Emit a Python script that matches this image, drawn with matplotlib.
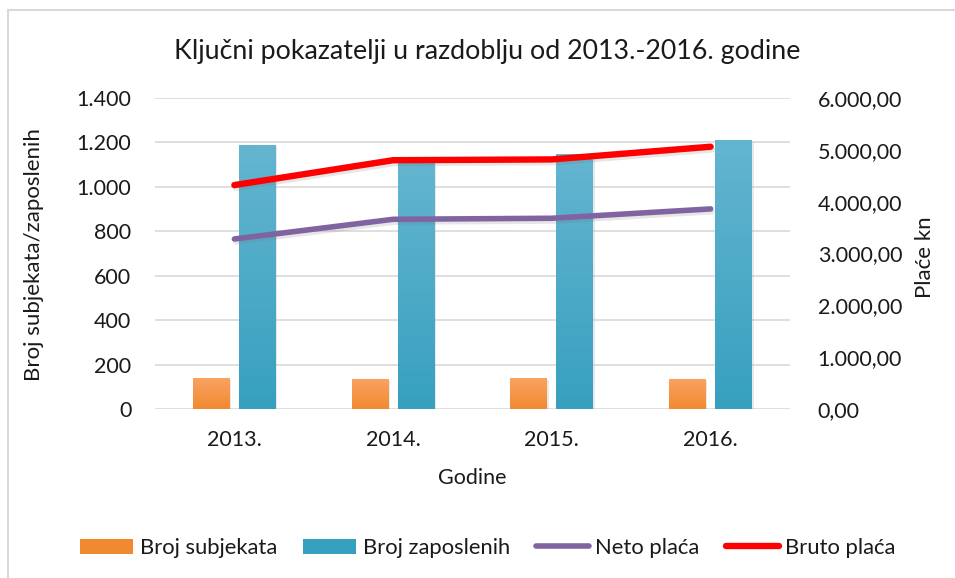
import matplotlib
matplotlib.use("Agg")
import matplotlib.pyplot as plt
import matplotlib.patheffects as pe
from matplotlib.colors import LinearSegmentedColormap
from matplotlib.patches import Rectangle
from matplotlib.ticker import FuncFormatter, MultipleLocator
import numpy as np

plt.rcParams['font.family'] = ['Lato', 'DejaVu Sans']

# data
godine = ["2013.", "2014.", "2015.", "2016."]
broj_subjekata = [137, 132, 137, 132]
broj_zaposlenih = [1188, 1120, 1146, 1210]
neto_placa = [3280, 3660, 3680, 3860]
bruto_placa = [4320, 4800, 4815, 5060]

orange_top, orange_bot = "#FAA262", "#F08A30"
blue_top, blue_bot = "#64B5D0", "#37A0BF"
purple = "#8064A2"
red = "#FF0000"
grid_col = "#D9D9D9"
txt = "#1A1A1A"
fs = 15.5

W, H = 955, 578
fig = plt.figure(figsize=(W / 100, H / 100), dpi=100)
ax = fig.add_axes([155 / W, 1 - 409 / H, 635 / W, 311 / H])

# chart border (light grey, runs off the right and bottom edges)
fig.patches.append(Rectangle((8 / W, -0.1), 1.2, 1 - 10 / H + 0.1, transform=fig.transFigure,
                             fill=False, edgecolor=grid_col, linewidth=1.5))

x = np.arange(len(godine))
bw = 0.233
off = 0.145


def fmt_int(v, pos):
    return f"{int(round(v)):,}".replace(",", ".")


def fmt_money(v, pos):
    s = f"{v:,.2f}"
    return s.replace(",", "X").replace(".", ",").replace("X", ".")


shadow_bar = [pe.SimplePatchShadow(offset=(1, -1), shadow_rgbFace="#AAAAAA", alpha=0.25), pe.Normal()]
b1 = ax.bar(x - off, broj_subjekata, bw, color=orange_bot, zorder=2, path_effects=shadow_bar,
            label="Broj subjekata")
b2 = ax.bar(x + off, broj_zaposlenih, bw, color=blue_bot, zorder=2, path_effects=shadow_bar,
            label="Broj zaposlenih")

# vertical gradient fill on each bar
for bars, c0, c1 in [(b1, orange_top, orange_bot), (b2, blue_top, blue_bot)]:
    cmap = LinearSegmentedColormap.from_list("g", [c1, c0])
    for p in bars:
        bx, by, bwid, bh = p.get_x(), p.get_y(), p.get_width(), p.get_height()
        grad = np.linspace(0, 1, 100).reshape(-1, 1)
        ax.imshow(grad, extent=[bx, bx + bwid, by, by + bh], origin="lower", aspect="auto",
                  cmap=cmap, zorder=2.5)

ax.set_xlim(-0.5, len(godine) - 0.5)
ax.set_ylim(0, 1400)
ax.yaxis.set_major_locator(MultipleLocator(200))
ax.yaxis.set_major_formatter(FuncFormatter(fmt_int))
ax.set_xticks(x)
ax.set_xticklabels(godine)
ax.grid(axis="y", color=grid_col, linewidth=1.2, zorder=0)
ax.set_axisbelow(True)
for s in ax.spines.values():
    s.set_visible(False)
ax.tick_params(axis="both", length=0, labelsize=fs, colors=txt)
ax.tick_params(axis="y", pad=17)
ax.tick_params(axis="x", pad=15)

ax2 = ax.twinx()
shadow_line = [pe.SimpleLineShadow(offset=(1, -2), shadow_color="#777777", alpha=0.18), pe.Normal()]
ax2.plot(x, neto_placa, color=purple, linewidth=4.0, solid_capstyle="round", solid_joinstyle="round",
         path_effects=shadow_line, label="Neto plaća", zorder=3)
ax2.plot(x, bruto_placa, color=red, linewidth=4.6, solid_capstyle="round", solid_joinstyle="round",
         path_effects=shadow_line, label="Bruto plaća", zorder=3)
ax2.set_ylim(0, 6000)
ax2.yaxis.set_major_locator(MultipleLocator(1000))
ax2.yaxis.set_major_formatter(FuncFormatter(fmt_money))
for s in ax2.spines.values():
    s.set_visible(False)
ax2.tick_params(axis="y", length=0, labelsize=fs, colors=txt, pad=20)

fig.text(487 / W, 1 - 51 / H, "Ključni pokazatelji u razdoblju od 2013.-2016. godine",
         ha="center", va="center", fontsize=19.3, color=txt)
fig.text(472 / W, 1 - 478 / H, "Godine", ha="center", va="center", fontsize=fs, color=txt)
fig.text(34 / W, 1 - 255 / H, "Broj subjekata/zaposlenih", rotation=90, ha="center", va="center",
         fontsize=fs + 0.5, color=txt)
fig.text(925 / W, 1 - 257 / H, "Plaće kn", rotation=90, ha="center", va="center",
         fontsize=fs + 0.5, color=txt)

h1, l1 = ax.get_legend_handles_labels()
h2, l2 = ax2.get_legend_handles_labels()
leg = fig.legend(h1 + h2, l1 + l2, loc="center", bbox_to_anchor=(488 / W, 1 - 548 / H), ncol=4,
                 frameon=False, fontsize=fs + 0.3, handlelength=2.4, handletextpad=0.3,
                 columnspacing=1.2)
for t in leg.get_texts():
    t.set_color(txt)
for lh in leg.get_lines():
    lh.set_path_effects([])
for ph in leg.get_patches():
    ph.set_path_effects([])

fig.savefig("out.png", dpi=100)
